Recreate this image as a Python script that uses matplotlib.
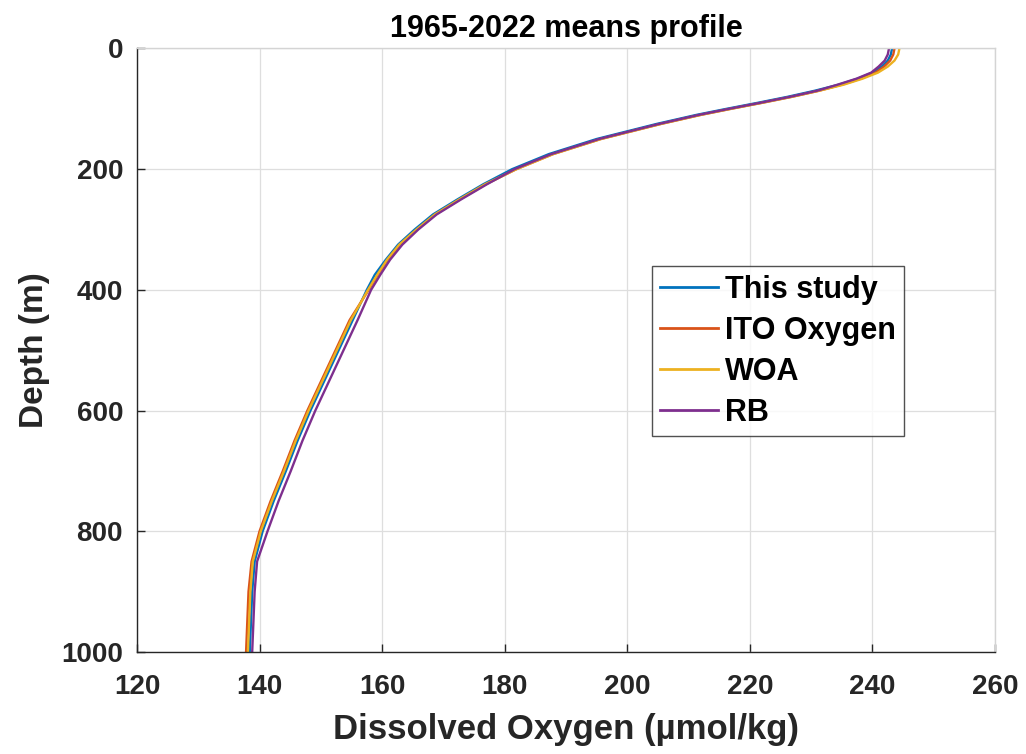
import matplotlib
matplotlib.use("Agg")
import matplotlib.pyplot as plt

plt.rcParams['font.family'] = ['Liberation Sans', 'DejaVu Sans']
plt.rcParams['font.weight'] = 'bold'

depth = [0, 10, 20, 30, 40, 50, 60, 70, 80, 90, 100, 110, 125, 150, 175, 200,
         225, 250, 275, 300, 325, 350, 375, 400, 450, 500, 550, 600, 650, 700,
         750, 800, 850, 900, 950, 1000]

this_study = [243.2, 243.0, 242.5, 241.5, 240.0, 237.6, 234.5, 230.6, 226.2, 221.3,
              216.2, 211.3, 204.8, 195.0, 187.2, 181.2, 176.5, 172.3, 168.3, 165.3,
              162.6, 160.6, 158.8, 157.5, 155.2, 152.9, 150.6, 148.3, 146.2, 144.3,
              142.3, 140.5, 139.2, 138.8, 138.6, 138.4]
ito_oxygen = [243.6, 243.4, 242.9, 241.9, 240.5, 238.1, 235.0, 231.3, 226.9, 222.0,
              216.9, 212.0, 205.5, 195.7, 187.9, 181.9, 176.9, 172.7, 168.7, 165.7,
              162.9, 160.9, 159.3, 157.8, 154.7, 152.4, 150.1, 147.8, 145.7, 143.8,
              141.8, 140.0, 138.7, 138.2, 138.0, 137.8]
woa = [244.4, 244.2, 243.6, 242.5, 240.9, 238.4, 235.3, 231.3, 226.9, 222.0,
       216.9, 212.0, 205.5, 195.7, 187.9, 181.9, 176.8, 172.6, 168.6, 165.6,
       162.8, 160.8, 159.2, 157.7, 154.9, 152.6, 150.3, 148.0, 145.9, 144.0,
       142.0, 140.2, 138.9, 138.5, 138.3, 138.1]
rb = [242.7, 242.5, 242.0, 241.0, 239.8, 237.4, 234.3, 231.0, 226.6, 221.7,
      216.6, 211.7, 205.2, 195.4, 187.6, 181.6, 177.1, 172.9, 168.9, 165.9,
      163.3, 161.3, 159.7, 158.2, 156.0, 153.7, 151.4, 149.1, 147.0, 145.1,
      143.1, 141.3, 139.6, 139.2, 139.0, 138.8]

labels = ['This study', 'ITO Oxygen', 'WOA', 'RB']
colors = ['#0072BD', '#D95319', '#EDB120', '#7E2F8E']
series = [this_study, ito_oxygen, woa, rb]

xticks = [120, 140, 160, 180, 200, 220, 240, 260]
yticks = [0, 200, 400, 600, 800, 1000]

fig = plt.figure(figsize=(10.26, 7.54), dpi=100)
ax = fig.add_axes([0.1335, 0.1353, 0.8363, 0.8004])

for vals, lab, c in zip(series, labels, colors):
    ax.plot(vals, depth, color=c, lw=1.7, label=lab, solid_joinstyle='round')

ax.set_xlim(120, 260)
ax.set_ylim(1000, 0)
ax.set_xticks(xticks)
ax.set_yticks(yticks)
ax.grid(True, color='#dedede', lw=0.9)
ax.set_axisbelow(True)
ax.tick_params(direction='in', length=6, width=1, labelsize=20, colors='#262626',
               top=False, right=False)
ax.tick_params(axis='x', pad=16)
ax.tick_params(axis='y', pad=10)
for lab in ax.get_xticklabels() + ax.get_yticklabels():
    lab.set_fontweight('bold')
for s in ['left', 'bottom']:
    ax.spines[s].set_color('#262626')
    ax.spines[s].set_linewidth(1.0)
for s in ['top', 'right']:
    ax.spines[s].set_color('#d4d4d4')
    ax.spines[s].set_linewidth(1.0)

ax.set_xlabel('Dissolved Oxygen (µmol/kg)', fontsize=25, fontweight='bold',
              color='#262626', labelpad=9)
ax.set_ylabel('Depth (m)', fontsize=24, fontweight='bold', color='#262626', labelpad=8)
ax.set_title('1965-2022 means profile', fontsize=22, fontweight='bold', pad=8)

leg = ax.legend(loc='upper left', bbox_to_anchor=(0.600, 0.639), fontsize=22,
                frameon=True, fancybox=False, handlelength=1.9, handletextpad=0.2,
                borderpad=0.28, labelspacing=0.36, borderaxespad=0)
leg.get_frame().set_edgecolor('#262626')
leg.get_frame().set_linewidth(1.0)
for t in leg.get_texts():
    t.set_fontweight('bold')
for h in leg.get_lines():
    h.set_linewidth(2.0)

fig.savefig('out.png', dpi=100)
